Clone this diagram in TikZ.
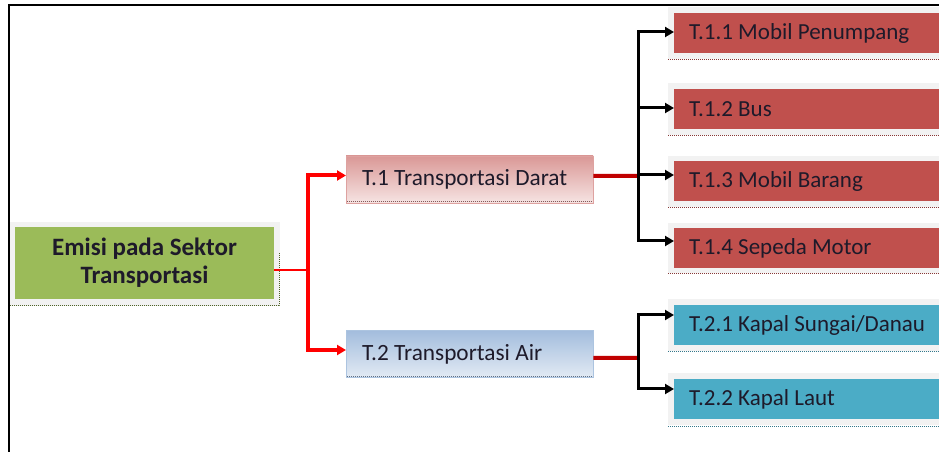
\documentclass[tikz,border=0pt]{standalone}
\usepackage{fontspec}
\setmainfont{Carlito}
\usetikzlibrary{arrows.meta,calc}
\definecolor{rootgreen}{HTML}{9BBB59}
\definecolor{rootdot}{HTML}{4F6228}
\definecolor{shadowgray}{HTML}{F2F2F2}
\definecolor{boxred}{HTML}{C0504D}
\definecolor{boxblue}{HTML}{4BACC6}
\definecolor{pinktop}{HTML}{DA9896}
\definecolor{pinkbot}{HTML}{F6E4E3}
\definecolor{bluetop}{HTML}{A3BDDD}
\definecolor{bluebot}{HTML}{E2EAF4}
\definecolor{darkred}{HTML}{C00000}
\definecolor{txt}{HTML}{1E1A2A}
\tikzset{
  rootbox/.style={draw=none,fill=rootgreen,minimum width=259bp,minimum height=72bp,inner sep=0pt,
    align=center,font=\fontsize{25bp}{28bp}\selectfont\bfseries,text=txt},
  midbox/.style={minimum width=247bp,minimum height=47bp,inner sep=0pt,anchor=west,
    text width=215bp,align=flush left,
    font=\fontsize{23.3bp}{26bp}\selectfont,text=txt},
  leafbox/.style={minimum width=271bp,minimum height=40bp,inner sep=0pt,anchor=west,
    font=\fontsize{23bp}{26bp}\selectfont,text=txt,text width=241bp,align=flush left},
  redleaf/.style={leafbox,fill=boxred},
  blueleaf/.style={leafbox,fill=boxblue},
  redarrow/.style={draw=red,line width=4bp,-{Triangle[length=9bp,width=10bp]}},
  blkarrow/.style={draw=black,line width=3bp,-{Triangle[length=9bp,width=10bp]}},
}
\begin{document}
\begin{tikzpicture}[x=1bp,y=-1bp]
\useasboundingbox (0,0) rectangle (939,452);
\clip (0,0) rectangle (939,452);
% frame
\draw[line width=2bp] (939,5.5) -- (9,5.5) -- (9,452);

% root
\fill[shadowgray] (10,222) rectangle (280,306);
\draw[rootdot,densely dotted,line width=1bp] (10,305.5) -- (279.5,305.5) -- (279.5,253);
\node[rootbox] (root) at (144.5,263) {Emisi pada Sektor\\Transportasi};

% middle boxes
\node[midbox,top color=pinktop,bottom color=pinkbot,draw=pinktop!90!white] (t1) at (346,179.5)
  {T.1 Transportasi Darat};
\draw[pinktop!60!black,densely dotted,line width=1bp] (347,202) -- (592,202);
\node[midbox,top color=bluetop,bottom color=bluebot,draw=bluetop!90!white] (t2) at (346,354)
  {T.2 Transportasi Air};
\draw[bluetop!60!black,densely dotted,line width=1bp] (347,377) -- (592,377);

% leaf backgrounds
\foreach \a/\b/\c in {7/59/boxred, 83/135/boxred, 156/207/boxred, 223/273/boxred, 299/351/boxblue, 373/425/boxblue}{
  \fill[shadowgray] (668,\a) rectangle (945,\b);
  \draw[\c!70!black,densely dotted,line width=1bp] (668,\b+1) -- (945,\b+1);
}
% leaves
\node[redleaf] (t11) at (674,33) {T.1.1 Mobil Penumpang};
\node[redleaf] (t12) at (674,109) {T.1.2 Bus};
\node[redleaf] (t13) at (674,181.5) {T.1.3 Mobil Barang};
\node[redleaf] (t14) at (674,248) {T.1.4 Sepeda Motor};
\node[blueleaf] (t21) at (674,325) {T.2.1 Kapal Sungai/Danau};
\node[blueleaf] (t22) at (674,399) {T.2.2 Kapal Laut};

% connectors root -> mid
\coordinate (j0) at (308,270);
\draw[red,line width=2bp] (root.east |- j0) -- (j0);
\draw[redarrow] (j0) |- ([yshift=4bp]t1.west);
\draw[redarrow] (j0) |- ([yshift=4bp]t2.west);

% mid -> leaves
\coordinate (j1) at (638,176);
\coordinate (j2) at (638,358);
\draw[darkred,line width=4bp] ([yshift=3.5bp]t1.east) -- (j1);
\draw[darkred,line width=4bp] ([yshift=-4bp]t2.east) -- (j2);
\draw[blkarrow] (j1) |- ([yshift=1bp]t11.west);
\draw[blkarrow] (j1) |- ([yshift=1bp]t12.west);
\draw[blkarrow] (j1) |- ([yshift=6.5bp]t13.west);
\draw[blkarrow] (j1) |- ([yshift=7bp]t14.west);
\draw[blkarrow] (j2) |- ([yshift=10bp]t21.west);
\draw[blkarrow] (j2) |- ([yshift=10bp]t22.west);
\end{tikzpicture}
\end{document}
